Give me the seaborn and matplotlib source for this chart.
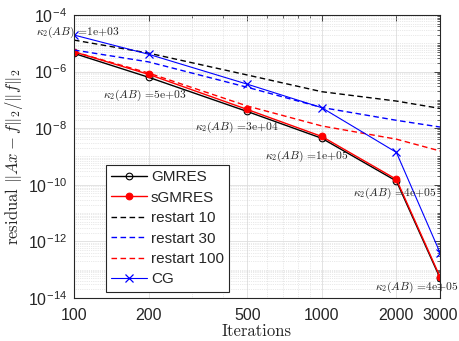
import numpy as np
import pandas as pd
import matplotlib
matplotlib.use("Agg")
import matplotlib.pyplot as plt
import matplotlib.ticker as mticker
import seaborn as sns

iterations = [100, 200, 500, 1000, 2000, 3000]
gmres = [4.4e-6, 6.3e-7, 3.9e-8, 4.4e-9, 1.36e-10, 5.1e-14]
sgmres = [5.0e-6, 8.0e-7, 4.6e-8, 5.1e-9, 1.56e-10, 5.6e-14]
restart10 = [1.3e-5, 4.5e-6, 7.6e-7, 1.95e-7, 9.1e-8, 5.0e-8]
restart30 = [5.8e-6, 2.2e-6, 2.8e-7, 5.4e-8, 1.9e-8, 1.1e-8]
restart100 = [5.0e-6, 8.9e-7, 6.1e-8, 1.2e-8, 4.1e-9, 1.57e-9]
cg = [1.96e-5, 4.1e-6, 3.6e-7, 5.3e-8, 1.4e-9, 4.0e-13]
kappa_labels = ["1e+03", "5e+03", "3e+04", "1e+05", "4e+05", "4e+05"]

sns.set_theme(style="white")
plt.rcParams["font.family"] = ["Liberation Sans", "DejaVu Sans"]
plt.rcParams["mathtext.fontset"] = "cm"

fig = plt.figure(figsize=(4.59, 3.41), dpi=100)
ax = fig.add_axes([74 / 459, 1 - 298 / 341, 366 / 459, 283 / 341])

sns.lineplot(x=iterations, y=gmres, ax=ax, color="black", lw=1.0, marker="o",
             markersize=4.8, markerfacecolor="none", markeredgecolor="black",
             markeredgewidth=0.8, label="GMRES")
sns.lineplot(x=iterations, y=sgmres, ax=ax, color="red", lw=1.0, marker="o",
             markersize=4.8, markerfacecolor="red", markeredgecolor="red",
             markeredgewidth=0.8, label="sGMRES")
sns.lineplot(x=iterations, y=restart10, ax=ax, color="black", lw=1.0,
             dashes=(4, 2.5), label="restart 10")
sns.lineplot(x=iterations, y=restart30, ax=ax, color="blue", lw=1.0,
             dashes=(4, 2.5), label="restart 30")
sns.lineplot(x=iterations, y=restart100, ax=ax, color="red", lw=1.0,
             dashes=(4, 2.5), label="restart 100")
sns.lineplot(x=iterations, y=cg, ax=ax, color="blue", lw=0.8, marker="x",
             markersize=6, markeredgecolor="blue", markeredgewidth=0.9,
             label="CG")

ax.set_xscale("log")
ax.set_yscale("log")
ax.set_xlim(100, 3000)
ax.set_ylim(1e-14, 1e-4)

ax.xaxis.set_major_locator(mticker.FixedLocator(iterations))
ax.xaxis.set_minor_locator(mticker.FixedLocator([300, 400, 600, 700, 800, 900]))
ax.xaxis.set_major_formatter(mticker.FuncFormatter(lambda v, p: "%d" % v))
ax.xaxis.set_minor_formatter(mticker.NullFormatter())

ymaj = [10.0 ** e for e in range(-14, -3, 2)]
ymin = [k * 10.0 ** e for e in range(-14, -4) for k in range(1, 10)
        if not (k == 1 and e % 2 == 0)]
ax.yaxis.set_major_locator(mticker.FixedLocator(ymaj))
ax.yaxis.set_minor_locator(mticker.FixedLocator(ymin))
ax.yaxis.set_major_formatter(mticker.FuncFormatter(
    lambda v, p: r"10$^{\mathregular{%d}}$" % round(np.log10(v))))
ax.yaxis.set_minor_formatter(mticker.NullFormatter())

ax.tick_params(which="both", direction="in", top=True, right=True,
               labelsize=11.5, color="#262626")
ax.tick_params(axis="x", which="major", pad=7)
ax.tick_params(axis="y", which="major", pad=5)
ax.tick_params(which="major", length=4, width=0.6)
ax.tick_params(which="minor", length=2.2, width=0.5)
for s in ax.spines.values():
    s.set_color("#262626")
    s.set_linewidth(0.8)

ax.grid(True, which="major", color="#dedede", lw=0.6, ls="-")
ax.grid(True, which="minor", color="#d4d4d4", lw=0.5, ls=":")
ax.set_axisbelow(True)

ax.set_xlabel("Iterations", family="cmr10", fontsize=12, labelpad=1)
ax.set_ylabel(r"residual $\|Ax-f\|_2/\|f\|_2$", family="cmr10", fontsize=12,
              labelpad=2)

# kappa annotations, offsets in pixels from the sGMRES points
offsets = [(4, 19), (-4, -21), (-10, -18), (-15, -20), (-2, -14), (-23, -11)]
for xi, yi, lab, off in zip(iterations, sgmres, kappa_labels, offsets):
    ax.annotate(r"$\kappa_2(AB)$ =" + lab, xy=(xi, yi), xytext=off,
                textcoords="offset pixels", ha="center", va="center",
                family="cmr10", fontsize=8.3, annotation_clip=False)

leg = ax.legend(loc="lower left", bbox_to_anchor=(0.087, 0.022), fontsize=11,
                handlelength=2.35, handletextpad=0.25, labelspacing=0.42,
                borderpad=0.35, borderaxespad=0, fancybox=False,
                edgecolor="#262626", framealpha=1)
leg.get_frame().set_linewidth(0.8)

fig.savefig("out.png", dpi=100)
